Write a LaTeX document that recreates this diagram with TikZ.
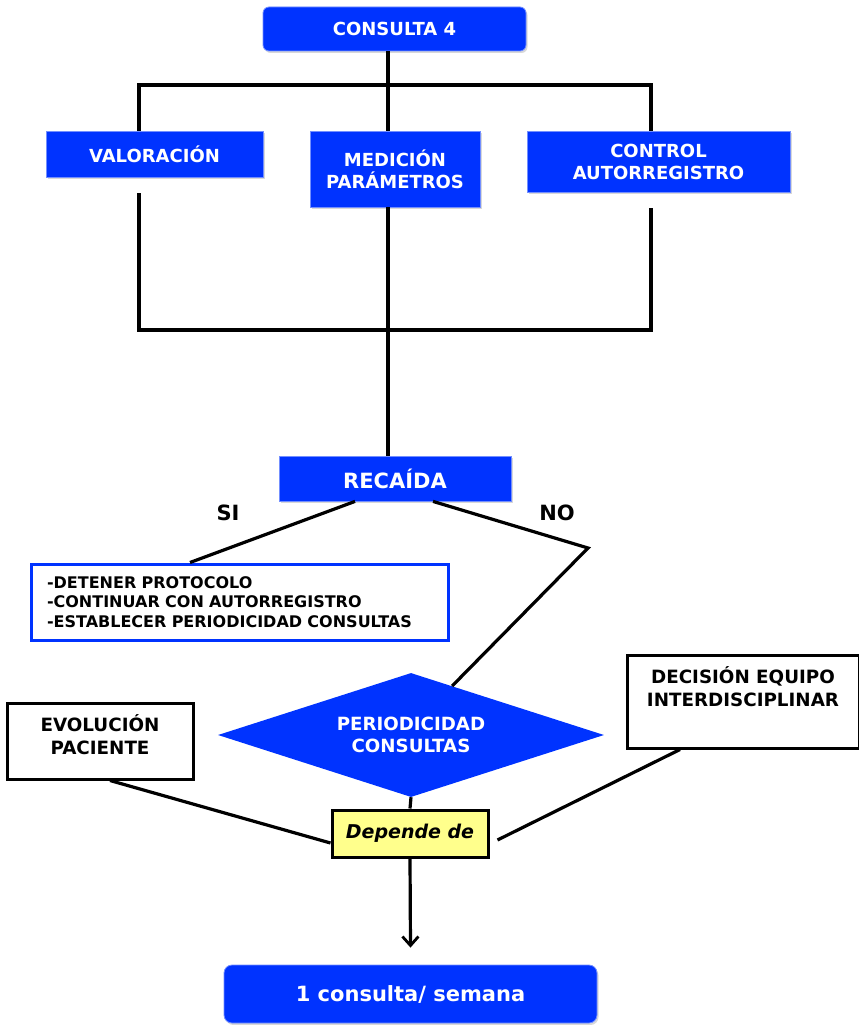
\documentclass[tikz,border=0pt]{standalone}
\usepackage{fontspec}
\setmainfont{DejaVu Sans}
\usetikzlibrary{shapes.geometric,shadows,arrows.meta}
\definecolor{azul}{RGB}{0,51,255}
\definecolor{amarillo}{RGB}{255,255,140}

\begin{document}
\begin{tikzpicture}[x=1pt,y=-1pt,>={Straight Barb[length=9pt,width=16pt,line width=2.8pt]},
    linea/.style={line width=3.2pt},
    caja/.style={rectangle,fill=azul,draw=azul!55!white,line width=0.8pt,text=white,
        font=\bfseries\fontsize{18}{22}\selectfont,align=center,inner sep=0pt,
        drop shadow={shadow xshift=1.5pt,shadow yshift=-2pt,fill=black!30}},
    blanco/.style={rectangle,fill=white,draw=black,line width=3pt,
        font=\bfseries\fontsize{18.3}{23}\selectfont,align=center,inner sep=0pt},
    etiq/.style={font=\bfseries\fontsize{21}{24}\selectfont}]
\useasboundingbox (0,0) rectangle (859,1025);
%	cajas
\node[caja,rounded corners=6pt,minimum width=263,minimum height=44] (consulta) at (394.5,29) {CONSULTA 4};
\node[caja,minimum width=217,minimum height=46] (valoracion) at (154.5,154) {VALORACIÓN};
\node[caja,minimum width=170,minimum height=76] (medicion) at (395,169) {MEDICIÓN\\PARÁMETROS};
\node[caja,minimum width=263,minimum height=61] (control) at (658.5,161.5) {CONTROL\\AUTORREGISTRO};
\node[caja,minimum width=232,minimum height=45,font=\bfseries\fontsize{21}{24}\selectfont] (recaida) at (395,478.5) {RECAÍDA};
\node[etiq] (si) at (228,513) {SI};
\node[etiq] (no) at (557,513) {NO};
\node[rectangle,draw=azul,line width=3pt,fill=white,align=left,text width=385pt,inner xsep=16pt,
    minimum height=76,font=\bfseries\fontsize{16}{19.5}\selectfont] (lista) at (239.5,602)
    {-DETENER PROTOCOLO\\-CONTINUAR CON AUTORREGISTRO\\-ESTABLECER PERIODICIDAD CONSULTAS};
\node[diamond,fill=azul,text=white,inner sep=0pt,minimum width=386,minimum height=124,aspect=3.1,
    font=\bfseries\fontsize{18.2}{22}\selectfont,align=center] (periodicidad) at (411,735) {PERIODICIDAD\\CONSULTAS};
\node[blanco,minimum width=186,minimum height=76,text depth=13pt] (evolucion) at (100,741) {EVOLUCIÓN\\PACIENTE};
\node[blanco,minimum width=232,minimum height=93,text depth=30pt] (decision) at (743,701.5) {DECISIÓN EQUIPO\\INTERDISCIPLINAR};
\node[blanco,fill=amarillo,minimum width=156,minimum height=47,
    font=\bfseries\itshape\fontsize{19}{22}\selectfont] (depende) at (410,833.5) {Depende de};
\node[caja,rounded corners=8pt,minimum width=373,minimum height=58,
    font=\bfseries\fontsize{21}{24}\selectfont] (semana) at (410.5,994) {1 consulta/ semana};
%	puntos de union
\coordinate (arriba) at (388,85);
\coordinate (ai) at (139,85);
\coordinate (ad) at (651,85);
\coordinate (vi) at (139,193);
\coordinate (cd) at (651,208);
\coordinate (bi) at (139,330);
\coordinate (bd) at (651,330);
\coordinate (codo) at (588,548);
%	conectores
\draw[linea] (consulta.south -| arriba) -- (arriba) -- (medicion.north -| arriba);
\draw[linea] (valoracion.north -| ai) -- (ai) -- (ad) -- (control.north -| ad);
\draw[linea] (vi) -- (bi) -- (bd) -- (cd);
\draw[linea] (medicion.south -| arriba) -- (recaida.north -| arriba);
\draw[linea] ([xshift=-40pt]recaida.south) -- ([xshift=-49.5pt]lista.north);
\draw[linea] ([xshift=38pt]recaida.south) -- (codo) -- (periodicidad.50);
\draw[linea] (periodicidad.south) -- (depende.north);
\draw[linea] ([xshift=10pt]evolucion.south) -- ([yshift=-9.5pt]depende.west);
\draw[linea] ([xshift=-63pt]decision.south) -- ([xshift=8pt,yshift=-6.5pt]depende.east);
\draw[linea,->] (depende.south) -- ([yshift=17pt]semana.north);
\end{tikzpicture}
\end{document}
